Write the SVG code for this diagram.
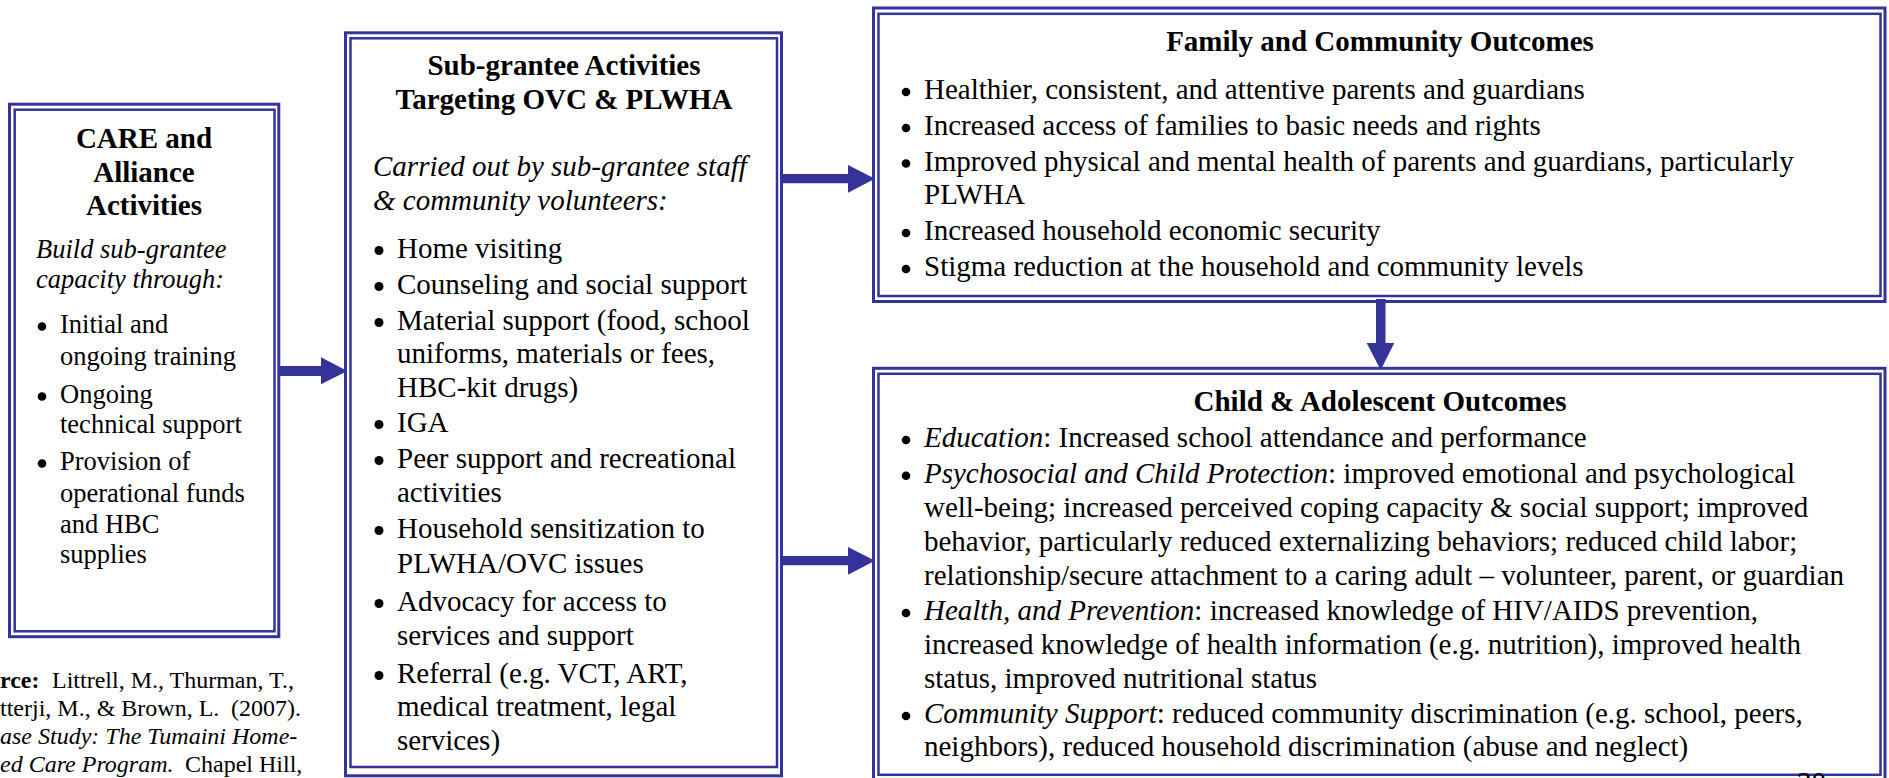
<svg xmlns="http://www.w3.org/2000/svg" width="1889" height="778" viewBox="0 0 1889 778" font-family="'Liberation Serif', 'Times New Roman', serif">
  <style>
    text { font-family: "Liberation Serif", "Times New Roman", serif; fill: #000; }
    .t29 { font-size: 29px; }
    .t26 { font-size: 26.5px; }
    .t24 { font-size: 24px; }
    .b { font-weight: bold; }
    .i { font-style: italic; }
    .mid { text-anchor: middle; }
    .frame-o { fill: none; stroke: #333399; stroke-width: 3; }
    .frame-i { fill: none; stroke: #333399; stroke-width: 2.5; }
    .dot { fill: #000; }
    .arrow { fill: #333399; stroke: none; }
  </style>

  <!-- CARE and Alliance box -->
  <g id="care-alliance">
    <rect class="frame-o" x="9.5" y="104.2" width="269.3" height="532.5"/>
    <rect class="frame-i" x="14.7" y="109.7" width="259.8" height="521.6"/>
    <text class="t29 b mid" x="144" y="148">CARE and</text>
    <text class="t29 b mid" x="144" y="182">Alliance</text>
    <text class="t29 b mid" x="144" y="215">Activities</text>
    <g class="t26">
      <text class="i" x="36" y="258">Build sub-grantee</text>
      <text class="i" x="36" y="288">capacity through:</text>
      <circle class="dot" cx="42" cy="326.5" r="4.3"/>
      <text x="60" y="333">Initial and</text>
      <text x="60" y="365">ongoing training</text>
      <circle class="dot" cx="42" cy="396.5" r="4.3"/>
      <text x="60" y="403">Ongoing</text>
      <text x="60" y="433">technical support</text>
      <circle class="dot" cx="42" cy="463.5" r="4.3"/>
      <text x="60" y="470">Provision of</text>
      <text x="60" y="502">operational funds</text>
      <text x="60" y="533">and HBC</text>
      <text x="60" y="563">supplies</text>
    </g>
  </g>

  <!-- Source citation -->
  <g id="source" class="t24">
    <text x="0" y="688"><tspan class="b">rce:</tspan><tspan x="52">Littrell, M., Thurman, T.,</tspan></text>
    <text x="0" y="716">tterji, M., &amp; Brown, L.<tspan x="231">(2007).</tspan></text>
    <text class="i" x="0" y="744">ase Study: The Tumaini Home-</text>
    <text x="0" y="772"><tspan class="i">ed Care Program.</tspan><tspan x="185">Chapel Hill,</tspan></text>
  </g>

  <!-- Sub-grantee activities box -->
  <g id="subgrantee" class="t29">
    <rect class="frame-o" x="345.5" y="32.8" width="436" height="743"/>
    <rect class="frame-i" x="350.5" y="38.3" width="426.5" height="728.7"/>
    <text class="b mid" x="564" y="75">Sub-grantee Activities</text>
    <text class="b mid" x="564" y="109">Targeting OVC &amp; PLWHA</text>
    <text class="i" x="373" y="176">Carried out by sub-grantee staff</text>
    <text class="i" x="373" y="210">&amp; community volunteers:</text>
    <circle class="dot" cx="379" cy="250.5" r="4.5"/>
    <text x="397" y="258">Home visiting</text>
    <circle class="dot" cx="379" cy="286.5" r="4.5"/>
    <text x="397" y="294">Counseling and social support</text>
    <circle class="dot" cx="379" cy="322.5" r="4.5"/>
    <text x="397" y="330">Material support (food, school</text>
    <text x="397" y="363">uniforms, materials or fees,</text>
    <text x="397" y="397">HBC-kit drugs)</text>
    <circle class="dot" cx="379" cy="424.5" r="4.5"/>
    <text x="397" y="432">IGA</text>
    <circle class="dot" cx="379" cy="460.5" r="4.5"/>
    <text x="397" y="468">Peer support and recreational</text>
    <text x="397" y="502">activities</text>
    <circle class="dot" cx="379" cy="530.5" r="4.5"/>
    <text x="397" y="538">Household sensitization to</text>
    <text x="397" y="573">PLWHA/OVC issues</text>
    <circle class="dot" cx="379" cy="603.5" r="4.5"/>
    <text x="397" y="611">Advocacy for access to</text>
    <text x="397" y="645">services and support</text>
    <circle class="dot" cx="379" cy="675.5" r="4.5"/>
    <text x="397" y="683">Referral (e.g. VCT, ART,</text>
    <text x="397" y="716">medical treatment, legal</text>
    <text x="397" y="750">services)</text>
  </g>

  <!-- Family and community outcomes box -->
  <g id="family-outcomes" class="t29">
    <rect class="frame-o" x="873.5" y="8" width="1011.5" height="293.5"/>
    <rect class="frame-i" x="878.5" y="13.8" width="1002" height="282.2"/>
    <text class="b mid" x="1380" y="51">Family and Community Outcomes</text>
    <circle class="dot" cx="906" cy="92" r="4.3"/>
    <text x="924" y="99">Healthier, consistent, and attentive parents and guardians</text>
    <circle class="dot" cx="906" cy="128" r="4.3"/>
    <text x="924" y="135">Increased access of families to basic needs and rights</text>
    <circle class="dot" cx="906" cy="163.5" r="4.3"/>
    <text x="924" y="170.5">Improved physical and mental health of parents and guardians, particularly</text>
    <text x="924" y="204">PLWHA</text>
    <circle class="dot" cx="906" cy="233" r="4.3"/>
    <text x="924" y="240">Increased household economic security</text>
    <circle class="dot" cx="906" cy="269" r="4.3"/>
    <text x="924" y="276">Stigma reduction at the household and community levels</text>
  </g>

  <!-- Child and adolescent outcomes box -->
  <g id="child-outcomes" class="t29">
    <rect class="frame-o" x="873.5" y="368.3" width="1011.5" height="412"/>
    <rect class="frame-i" x="878.5" y="373.8" width="1002" height="401"/>
    <text class="b mid" x="1380" y="411">Child &amp; Adolescent Outcomes</text>
    <circle class="dot" cx="906" cy="440" r="4.3"/>
    <text x="924" y="447"><tspan class="i">Education</tspan>: Increased school attendance and performance</text>
    <circle class="dot" cx="906" cy="475.7" r="4.3"/>
    <text x="924" y="482.7"><tspan class="i">Psychosocial and Child Protection</tspan>: improved emotional and psychological</text>
    <text x="924" y="517">well-being; increased perceived coping capacity &amp; social support; improved</text>
    <text x="924" y="551">behavior, particularly reduced externalizing behaviors; reduced child labor;</text>
    <text x="924" y="585">relationship/secure attachment to a caring adult – volunteer, parent, or guardian</text>
    <circle class="dot" cx="906" cy="613" r="4.3"/>
    <text x="924" y="620"><tspan class="i">Health, and Prevention</tspan>: increased knowledge of HIV/AIDS prevention,</text>
    <text x="924" y="653.5">increased knowledge of health information (e.g. nutrition), improved health</text>
    <text x="924" y="688">status, improved nutritional status</text>
    <circle class="dot" cx="906" cy="716" r="4.3"/>
    <text x="924" y="723"><tspan class="i">Community Support</tspan>: reduced community discrimination (e.g. school, peers,</text>
    <text x="924" y="755.5">neighbors), reduced household discrimination (abuse and neglect)</text>
  </g>

  <!-- page number, mostly below the page edge -->
  <text id="page-number" class="t29" x="1797" y="792">30</text>

  <!-- Block arrows -->
  <g id="connectors">
    <path class="arrow" d="M279,366 H321 V357.3 L347.3,371 L321,384.3 V376 H279 Z"/>
    <path class="arrow" d="M782,174 H848 V165 L875,178.7 L848,192.7 V183.3 H782 Z"/>
    <path class="arrow" d="M782,556 H848 V547 L875,560.7 L848,574.7 V565.3 H782 Z"/>
    <path class="arrow" d="M1376,299 V343 H1366.7 L1380.7,370 L1394.3,343 H1385.5 V299 Z"/>
  </g>
</svg>
